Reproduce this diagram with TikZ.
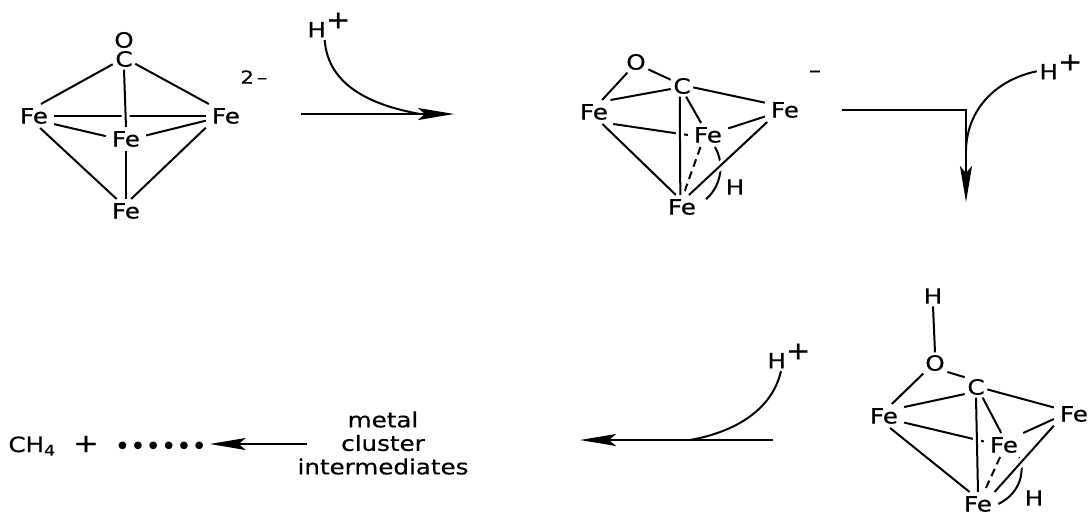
\documentclass[tikz,border=0pt]{standalone}
\usepackage{fontspec}
\setmainfont[FakeStretch=1.17,FakeBold=0.5]{DejaVu Sans}
\newfontfamily\dotfont{DejaVu Sans}
\usepackage{tikz}
\usetikzlibrary{arrows.meta}
\newcommand{\Hplus}{H\raisebox{9pt}{\fontsize{25}{25}\selectfont +}}

\begin{document}
\begin{tikzpicture}[x=1pt, y=-1pt,
    atom/.style={inner sep=2.5pt, font=\fontsize{21}{24}\selectfont},
    iron/.style={atom, inner xsep=6pt, inner ysep=4pt},
    bond/.style={line width=2pt, black},
    bondtop/.style={bond, preaction={draw=white, line width=8pt}},
    bonddash/.style={bond, dash pattern=on 8pt off 5pt},
    arr/.style={-{Stealth[length=36pt, width=12pt, inset=7pt]}, line width=2pt, black}
]
    \useasboundingbox (0,0) rectangle (1092,517);

    \node[atom] (ao) at (124,40) {O};
    \node[atom] (ac) at (124,59) {C};
    \node[iron] (afl) at (34,116) {Fe};
    \node[iron] (afr) at (226,116) {Fe};
    \node[iron] (afm) at (126,139) {Fe};
    \node[iron] (afb) at (126,211) {Fe};
    \node[atom, font=\fontsize{18}{20}\selectfont] (acharge) at (254,77) {2\,–};

    \draw[bond] (ac.205) -- (afl.60);
    \draw[bond] (ac.337) -- (afr.145);
    \draw[bond] (afl.east) -- (afr.west);
    \draw[bondtop] (ac.south) -- (afm.north);
    \draw[bond] (afl.338) -- (afm.172);
    \draw[bond] (afr.193) -- (afm.10);
    \draw[bond] (afl.297) -- (afb.128);
    \draw[bond] (afr.210) -- (afb.67);
    \draw[bond] (afm.south) -- (afb.north);

    \node[atom] (hp1) at (329,25) {\Hplus};
    \coordinate (a1s) at (301,114);
    \coordinate (a1e) at (454,114);
    \coordinate (a1m) at (420,114);
    \draw[arr] (a1s) -- (a1e);
    \draw[bond] (hp1.254) .. controls (328,85) and (370,105) .. (a1m);

    \node[atom] (bo) at (636,62) {O};
    \node[atom] (bc) at (682,86) {C};
    \node[iron] (bfl) at (594,112) {Fe};
    \node[iron] (bfr) at (785,110) {Fe};
    \node[iron] (bfm) at (708,135) {Fe};
    \node[iron] (bfb) at (682,207) {Fe};
    \node[atom] (bh) at (735,187) {H};
    \node[atom] (bcharge) at (815,74) {–};

    \draw[bond] (bo.231) -- (bfl.56);
    \draw[bond] (bo.329) -- (bc.151);
    \draw[bond] (bfl.36) -- (bc.195);
    \draw[bond] (bc.353) -- (bfr.160);
    \draw[bond] (bc.291) -- (bfm.120);
    \draw[bond] (bfl.328) -- (bfm.west);
    \draw[bond] (bfm.18) -- (bfr.198);
    \draw[bond] (bfl.305) -- (bfb.117);
    \draw[bonddash] (bfm.238) -- (bfb.84);
    \draw[bondtop] (bc.258) -- (bfb.98);
    \draw[bond, shorten >=5pt] (bfm.300) to[out=-60, in=40] (bfb.13);
    \draw[bondtop] (bfr.214) -- (bfb.60);

    \node[atom] (hp2) at (1061,67) {\Hplus};
    \coordinate (a2s) at (842,110);
    \coordinate (a2e) at (966,202);
    \coordinate (a2m) at (966,150);
    \draw[arr] (a2s) -| (a2e);
    \draw[bond] (hp2.190) .. controls (995,80) and (967,110) .. (a2m);

    \node[atom] (ch) at (933,296) {H};
    \node[atom] (co) at (935,363) {O};
    \node[atom] (cc) at (976,387) {C};
    \node[iron] (cfl) at (884,416) {Fe};
    \node[iron] (cfr) at (1074,414) {Fe};
    \node[iron] (cfm) at (1004,445) {Fe};
    \node[iron] (cfb) at (978,504) {Fe};
    \node[atom] (chb) at (1034,498) {H};

    \draw[bond] (ch.south) -- (co.north);
    \draw[bond] (co.222) -- (cfl.57);
    \draw[bond] (co.324) -- (cc.139);
    \draw[bond] (cfl.24) -- (cc.212);
    \draw[bond] (cc.348) -- (cfr.162);
    \draw[bond] (cc.302) -- (cfm.103);
    \draw[bond] (cfl.342) -- (cfm.170);
    \draw[bond] (cfm.32) -- (cfr.194);
    \draw[bond] (cfl.297) -- (cfb.125);
    \draw[bonddash] (cfm.252) -- (cfb.63);
    \draw[bondtop] (cc.south) -- (cfb.north);
    \draw[bond] (cfm.322) to[out=-70, in=25] (cfb.east);
    \draw[bondtop] (cfr.210) -- (cfb.36);

    \node[atom] (hp3) at (789,356) {\Hplus};
    \coordinate (a3s) at (773,440);
    \coordinate (a3e) at (580,440);
    \coordinate (a3m) at (690,440);
    \draw[arr] (a3s) -- (a3e);
    \draw[bond] (hp3.242) .. controls (772,410) and (735,432) .. (a3m);

    \node[atom] (mch) at (32,446) {CH\textsubscript{4}};
    \node[atom, font=\fontsize{26}{30}\selectfont] (mplus) at (86,444) {+};
    \node[atom, font=\dotfont\fontsize{26}{30}\selectfont] (mdots) at (161,449) {••••••};
    \node[atom, align=center, font=\fontsize{21}{23.5}\selectfont] (mlabel) at (383,443) {metal\\cluster\\intermediates};
    \coordinate (a4s) at (307,444);
    \draw[arr] (a4s) -- (a4s -| mdots.east);
\end{tikzpicture}
\end{document}
